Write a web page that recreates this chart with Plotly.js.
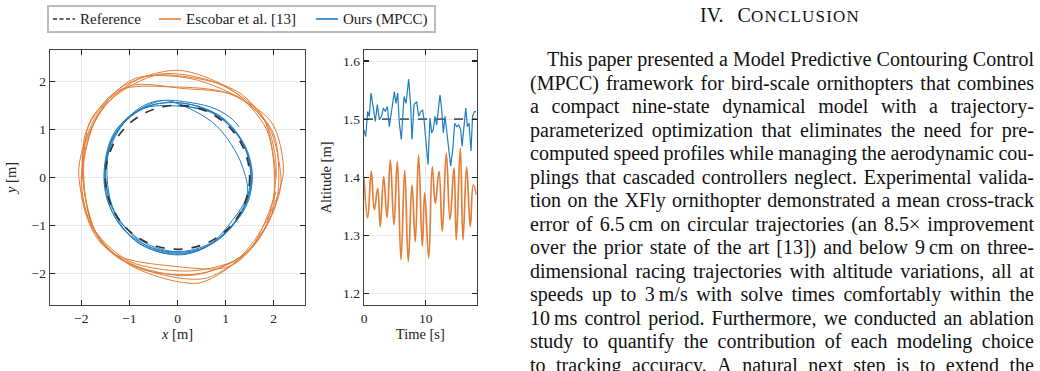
<!DOCTYPE html>
<html>
<head>
<meta charset="utf-8">
<script src="https://cdn.plot.ly/plotly-3.0.1.min.js"></script>
<style>
  html, body { margin: 0; padding: 0; background: #fff; }
  #page { position: relative; width: 1040px; height: 371px; overflow: hidden; }
  #fig { position: absolute; left: 0; top: 0; width: 1040px; height: 371px; }
  #col { position: absolute; left: 530px; top: 0; width: 504px;
         font-family: "Liberation Serif", "Times New Roman", serif; font-size: 20px; color: #111; }
  #col .hd { text-align: center; line-height: 24px; margin-top: 3px; height: 45px; padding-right: 4px; }
  #col .hd .num { margin-right: 14px; }
  #col .hd .sc { font-size: 17px; letter-spacing: 1.2px; }
  #col .ln { display: flex; justify-content: space-between; height: 23.5px; line-height: 23.5px; white-space: nowrap; }
  #col .ln.first { padding-left: 17px; }
</style>
</head>
<body>
<div id="page">
  <div id="fig"></div>
  <div id="col"></div>
</div>
<script>
// ---- Horizontal track (x, y in metres) ----
const refRadius = 1.5;

const escobarX = [
  2.05, 1.85, 1.15, 0.0, -1.2, -1.75, -2.0, -1.8, -1.2, 0.2, 1.25, 1.85,
  2.2, 1.95, 1.05, -0.05, -1.25, -1.9, -1.95, -1.7, -0.95, 0.45, 1.45, 2.0,
  2.1, 2.0, 1.45, 0.3, -0.9, -1.65, -2.05, -1.85, -1.3, -0.1, 1.1, 1.8,
  2.05, 1.75, 0.85, -0.35, -1.4, -1.95, -1.9, -1.55, -0.6, 0.6, 1.6, 2.1,
  2.15, 1.9, 1.2, 0.1, -1.0, -1.8, -1.95, -1.75, -1.0, 0.3, 1.35, 1.95,
  2.0, 1.8, 1.3, 0.6, -0.7, -1.65, -2.0, -1.65, -0.8, 0.5, 1.5, 2.05
];
const escobarY = [
  0.0, 1.0, 1.8, 2.23, 1.85, 1.1, 0.0, -1.0, -1.7, -2.05, -1.7, -0.9,
  0.1, 1.15, 1.75, 1.88, 1.8, 0.95, -0.15, -1.15, -1.85, -2.2, -1.55, -0.7,
  -0.2, 0.9, 1.55, 2.05, 2.05, 1.35, 0.2, -0.85, -1.6, -1.85, -1.85, -1.1,
  0.25, 1.3, 1.95, 2.15, 1.6, 0.6, -0.5, -1.4, -1.95, -2.1, -1.4, -0.4,
  0.0, 1.05, 1.7, 1.85, 1.9, 1.2, 0.05, -1.05, -1.75, -1.95, -1.65, -0.8,
  0.3, 1.2, 1.75, 2.02, 2.09, 1.3, -0.3, -1.3, -1.9, -2.0, -1.5, -0.3
];

const mpccX = [
  0.0, 0.8, 1.35, 1.52, 1.32, 0.78, 0.0, -0.75, -1.3, -1.5, -1.35, -0.8,
  -0.1, 0.72, 1.3, 1.55, 1.38, 0.85, 0.05, -0.8, -1.28, -1.46, -1.38, -0.85,
  -0.3, 0.35, 0.8, 1.12, 1.35, 1.45, 1.1, 0.6, 0.1, -0.6, -1.2, -1.45, -1.5, -1.25, -0.75,
  0.05, 0.85, 1.38, 1.55, 1.45, 1.05, 0.45, -0.35, -1.05, -1.45, -1.52, -1.3, -0.7,
  0.0, 0.75, 1.32, 1.53, 1.4, 0.95, 0.2, -0.55, -1.15, -1.48, -1.45, -1.05, -0.4, 0.3, 0.8, 1.15, 1.28
];
const mpccY = [
  1.5, 1.3, 0.72, 0.0, -0.72, -1.32, -1.55, -1.32, -0.75, 0.0, 0.8, 1.38,
  1.56, 1.35, 0.8, 0.05, -0.65, -1.3, -1.6, -1.38, -0.8, -0.05, 0.72, 1.4,
  1.6, 1.38, 1.08, 0.68, 0.22, -0.35, -0.95, -1.45, -1.58, -1.45, -0.9, -0.3, 0.3, 1.0, 1.42,
  1.48, 1.3, 0.7, 0.1, -0.55, -1.1, -1.5, -1.52, -1.15, -0.5, 0.2, 0.95, 1.45,
  1.55, 1.35, 0.78, 0.05, -0.6, -1.2, -1.6, -1.5, -1.05, -0.35, 0.45, 1.2, 1.58, 1.55, 1.42, 1.2, 1.05
];

// ---- Altitude over time ----
const refAltitude = 1.5;
const timeSpan = [0, 18.27];

const escobarT = [0, 0.6, 1.18, 1.67, 2.22, 2.64, 3.19, 3.73, 4.26, 4.86, 5.4, 6.0, 6.6, 7.18, 7.78, 8.31,
  8.85, 9.45, 9.84, 10.49, 11.07, 11.56, 12.16, 12.69, 13.34, 13.94, 14.59, 14.96, 15.61, 16.05, 16.64, 17.23, 17.72, 18.2];
const escobarZ = [1.398, 1.330, 1.41, 1.344, 1.381, 1.315, 1.401, 1.33, 1.43, 1.318, 1.427, 1.258, 1.412, 1.255, 1.387, 1.289,
  1.438, 1.281, 1.373, 1.261, 1.418, 1.355, 1.41, 1.307, 1.441, 1.327, 1.416, 1.292, 1.45, 1.292, 1.418, 1.315, 1.387, 1.37];

const mpccT = [0, 0.27, 0.6, 0.86, 1.14, 1.51, 1.84, 2.16, 2.49, 2.86, 3.14, 3.46, 3.78, 4.1, 4.49, 4.92, 5.19, 5.46, 5.73,
  6.05, 6.49, 6.81, 7.24, 7.57, 7.78, 8.11, 8.54, 8.86, 9.19, 9.51, 9.73, 10.05, 10.38, 10.7, 10.97, 11.24, 11.5, 11.78,
  12.05, 12.32, 12.6, 12.86, 13.14, 13.5, 13.84, 14.05, 14.38, 14.7, 15.03, 15.35, 15.68, 15.9, 16.1, 16.5, 16.76, 17.03,
  17.35, 17.6, 17.9, 18.15];
const mpccZ = [1.482, 1.470, 1.513, 1.505, 1.545, 1.522, 1.496, 1.525, 1.499, 1.505, 1.519, 1.513, 1.522, 1.487, 1.513, 1.547,
  1.527, 1.545, 1.493, 1.465, 1.539, 1.527, 1.569, 1.522, 1.465, 1.525, 1.530, 1.505, 1.513, 1.516, 1.499, 1.453, 1.422,
  1.502, 1.476, 1.482, 1.505, 1.49, 1.522, 1.542, 1.516, 1.476, 1.505, 1.465, 1.439, 1.419, 1.447, 1.493, 1.487, 1.49,
  1.482, 1.453, 1.476, 1.519, 1.487, 1.493, 1.445, 1.505, 1.513, 1.513];

// ---- Series names ----
const seriesNames = ['Reference', 'Escobar et al. [13]', 'Ours (MPCC)'];

// ---- Text column ----
const sectionNumber = 'IV.';
const sectionInitial = 'C';
const sectionRest = 'ONCLUSION';
const paragraphLines = [
  'This paper presented a Model Predictive Contouring Control',
  '(MPCC) framework for bird-scale ornithopters that combines',
  'a compact nine-state dynamical model with a trajectory-',
  'parameterized optimization that eliminates the need for pre-',
  'computed speed profiles while managing the aerodynamic cou-',
  'plings that cascaded controllers neglect. Experimental valida-',
  'tion on the XFly ornithopter demonstrated a mean cross-track',
  'error of 6.5\u2009cm on circular trajectories (an 8.5\u00d7 improvement',
  'over the prior state of the art [13]) and below 9\u2009cm on three-',
  'dimensional racing trajectories with altitude variations, all at',
  'speeds up to 3\u2009m/s with solve times comfortably within the',
  '10\u2009ms control period. Furthermore, we conducted an ablation',
  'study to quantify the contribution of each modeling choice',
  'to tracking accuracy. A natural next step is to extend the'
];

// ---- Styling ----
const ORANGE = '#e37d38';
const BLUE = '#1e7dc0';
const REFCOL = '#333333';
const SERIF = 'Liberation Serif, Times New Roman, serif';
const TXT = '#222';

const W = 1040, H = 371;
const px2x = p => p / W;
const px2y = p => (H - p) / H;

const axisBase = {
  showline: true, linecolor: '#404040', linewidth: 1.4, mirror: 'ticks',
  ticks: 'inside', ticklen: 5, tickwidth: 1.1, tickcolor: '#222',
  showgrid: true, gridcolor: '#e8e8e8', gridwidth: 1, zeroline: false,
  tickfont: { family: SERIF, size: 13.5, color: TXT },
  automargin: false, fixedrange: true
};
const titleFont = { family: SERIF, size: 14.5, color: TXT };

const traces = [
  { type: 'scatter', mode: 'lines', name: seriesNames[0], x: timeSpan, y: [refAltitude, refAltitude],
    xaxis: 'x2', yaxis: 'y2', line: { color: '#5a5a5a', width: 1.8, dash: 'dash' } },
  { type: 'scatter', mode: 'lines', name: seriesNames[1], x: escobarX, y: escobarY,
    line: { color: ORANGE, width: 1.0, shape: 'spline', smoothing: 0.85 } },
  { type: 'scatter', mode: 'lines', name: seriesNames[1],
    x: escobarT, y: escobarZ, xaxis: 'x2', yaxis: 'y2',
    line: { color: ORANGE, width: 1.7, shape: 'spline', smoothing: 1.2 } },
  { type: 'scatter', mode: 'lines', name: seriesNames[2], x: mpccX, y: mpccY,
    line: { color: BLUE, width: 1.0, shape: 'spline', smoothing: 1 } },
  { type: 'scatter', mode: 'lines', name: seriesNames[2],
    x: mpccT, y: mpccZ, xaxis: 'x2', yaxis: 'y2', line: { color: BLUE, width: 1.2 } }
];

// Legend frame with one swatch and label per series
const legendBox = { x0: 48, x1: 435, y0: 6, y1: 32 };
const legendItems = [
  { name: seriesNames[0], color: REFCOL, dash: '4px,2.5px', sx: 53, tx: 78 },
  { name: seriesNames[1], color: ORANGE, dash: 'solid', sx: 159, tx: 184 },
  { name: seriesNames[2], color: BLUE, dash: 'solid', sx: 316, tx: 341 }
];
const legendMidY = (legendBox.y0 + legendBox.y1) / 2;
const swatchLen = 22;

const shapes = [
  { type: 'circle', xref: 'x', yref: 'y', x0: -refRadius, x1: refRadius, y0: -refRadius, y1: refRadius,
    layer: 'above', line: { color: REFCOL, width: 1.7, dash: 'dash' } },
  { type: 'rect', xref: 'paper', yref: 'paper',
    x0: px2x(legendBox.x0), x1: px2x(legendBox.x1), y0: px2y(legendBox.y1), y1: px2y(legendBox.y0),
    line: { color: '#bcbcbc', width: 2 }, fillcolor: 'rgba(255,255,255,0)' }
];
const annotations = [];
legendItems.forEach(it => {
  shapes.push({ type: 'line', xref: 'paper', yref: 'paper',
    x0: px2x(it.sx), x1: px2x(it.sx + swatchLen), y0: px2y(legendMidY), y1: px2y(legendMidY),
    line: { color: it.color, width: 1.6, dash: it.dash } });
  annotations.push({ xref: 'paper', yref: 'paper', x: px2x(it.tx), y: px2y(legendMidY),
    xanchor: 'left', yanchor: 'middle', showarrow: false, text: it.name,
    font: { family: SERIF, size: 15, color: TXT } });
});

const layout = {
  width: W, height: H,
  margin: { l: 0, r: 0, t: 0, b: 0 },
  paper_bgcolor: '#fff', plot_bgcolor: '#fff',
  font: { family: SERIF, color: TXT },
  showlegend: false,
  xaxis: Object.assign({}, axisBase, {
    domain: [px2x(50), px2x(305)], range: [-2.65, 2.65], dtick: 1, anchor: 'y',
    title: { text: '<i>x</i> [m]', font: titleFont, standoff: 4 }
  }),
  yaxis: Object.assign({}, axisBase, {
    domain: [px2y(305), px2y(50)], range: [-2.66, 2.65], dtick: 1, anchor: 'x',
    title: { text: '<i>y</i> [m]', font: titleFont, standoff: 11 }
  }),
  xaxis2: Object.assign({}, axisBase, {
    domain: [px2x(364), px2x(476.7)], range: timeSpan, dtick: 10, anchor: 'y2',
    title: { text: 'Time [s]', font: titleFont, standoff: 3 }
  }),
  yaxis2: Object.assign({}, axisBase, {
    domain: [px2y(305), px2y(50)], range: [1.18, 1.619], dtick: 0.1, tickformat: '.1f', anchor: 'x2',
    title: { text: 'Altitude [m]', font: titleFont, standoff: 8 }
  }),
  shapes: shapes,
  annotations: annotations
};

Plotly.newPlot('fig', traces, layout, { displayModeBar: false, staticPlot: true });

// Section heading and justified paragraph lines
const col = document.getElementById('col');
const hd = document.createElement('div');
hd.className = 'hd';
const num = document.createElement('span');
num.className = 'num';
num.textContent = sectionNumber;
hd.appendChild(num);
hd.appendChild(document.createTextNode(sectionInitial));
const sc = document.createElement('span');
sc.className = 'sc';
sc.textContent = sectionRest;
hd.appendChild(sc);
col.appendChild(hd);
paragraphLines.forEach((line, i) => {
  const row = document.createElement('div');
  row.className = 'ln' + (i === 0 ? ' first' : '');
  line.split(' ').forEach(word => {
    const s = document.createElement('span');
    s.textContent = word;
    row.appendChild(s);
  });
  col.appendChild(row);
});
</script>
</body>
</html>
